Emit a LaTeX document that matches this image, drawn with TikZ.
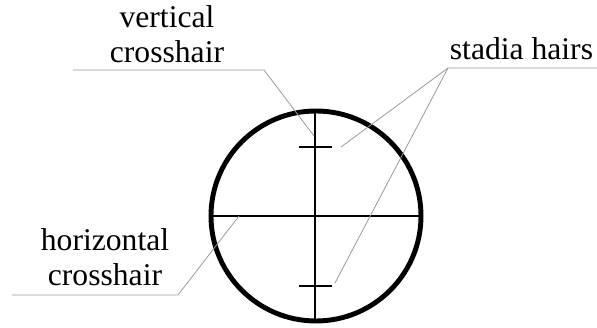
\documentclass[tikz,border=0pt]{standalone}
\usepackage{fontspec}
\setmainfont{Liberation Serif}
\begin{document}
\begin{tikzpicture}[
    labeltext/.style={font=\fontsize{18}{20}\selectfont, align=center, anchor=south, inner sep=0pt},
    leader/.style={draw=black!40, line width=0.45pt},
    hair/.style={draw=black, line width=1.1pt}
]
            \useasboundingbox (-6.32,-2.24) rectangle (5.62,4.32);

            % Field of view
            \draw[draw=black, line width=2.8pt] (0,0) circle (2.10);

            % Crosshairs
            \coordinate (hl) at (-2.10,0.00);
            \coordinate (hr) at (2.10,0.00);
            \coordinate (vt) at (-0.02,2.10);
            \coordinate (vb) at (-0.02,-2.10);
            \draw[hair] (hl) -- (hr);
            \draw[hair] (vt) -- (vb);

            % Stadia hairs
            \coordinate (stl) at (-0.34,1.38);
            \coordinate (str) at (0.32,1.38);
            \coordinate (sbl) at (-0.34,-1.40);
            \coordinate (sbr) at (0.32,-1.40);
            \draw[hair] (stl) -- (str);
            \draw[hair] (sbl) -- (sbr);

            % Labels
            \node[labeltext] (vlabel) at (-2.98,3.06) {vertical\\crosshair};
            \node[labeltext] (slabel) at (4.11,3.12) {stadia hairs};
            \node[labeltext] (hlabel) at (-4.22,-1.40) {horizontal\\crosshair};

            % Leader lines
            \coordinate (vstart) at (-4.86,2.92);
            \coordinate (vbend) at (-1.04,2.92);
            \coordinate (vend) at (-0.04,1.60);
            \draw[leader] (vstart) -- (vbend) -- (vend);

            \coordinate (sbend) at (2.64,2.96);
            \coordinate (send) at (5.62,2.96);
            \coordinate (stop) at (0.50,1.38);
            \coordinate (sbot) at (0.38,-1.34);
            \draw[leader] (send) -- (sbend) -- (stop);
            \draw[leader] (sbend) -- (sbot);

            \coordinate (hstart) at (-6.08,-1.58);
            \coordinate (hbend) at (-2.76,-1.58);
            \coordinate (hend) at (-1.54,0.00);
            \draw[leader] (hstart) -- (hbend) -- (hend);
        \end{tikzpicture}
\end{document}
